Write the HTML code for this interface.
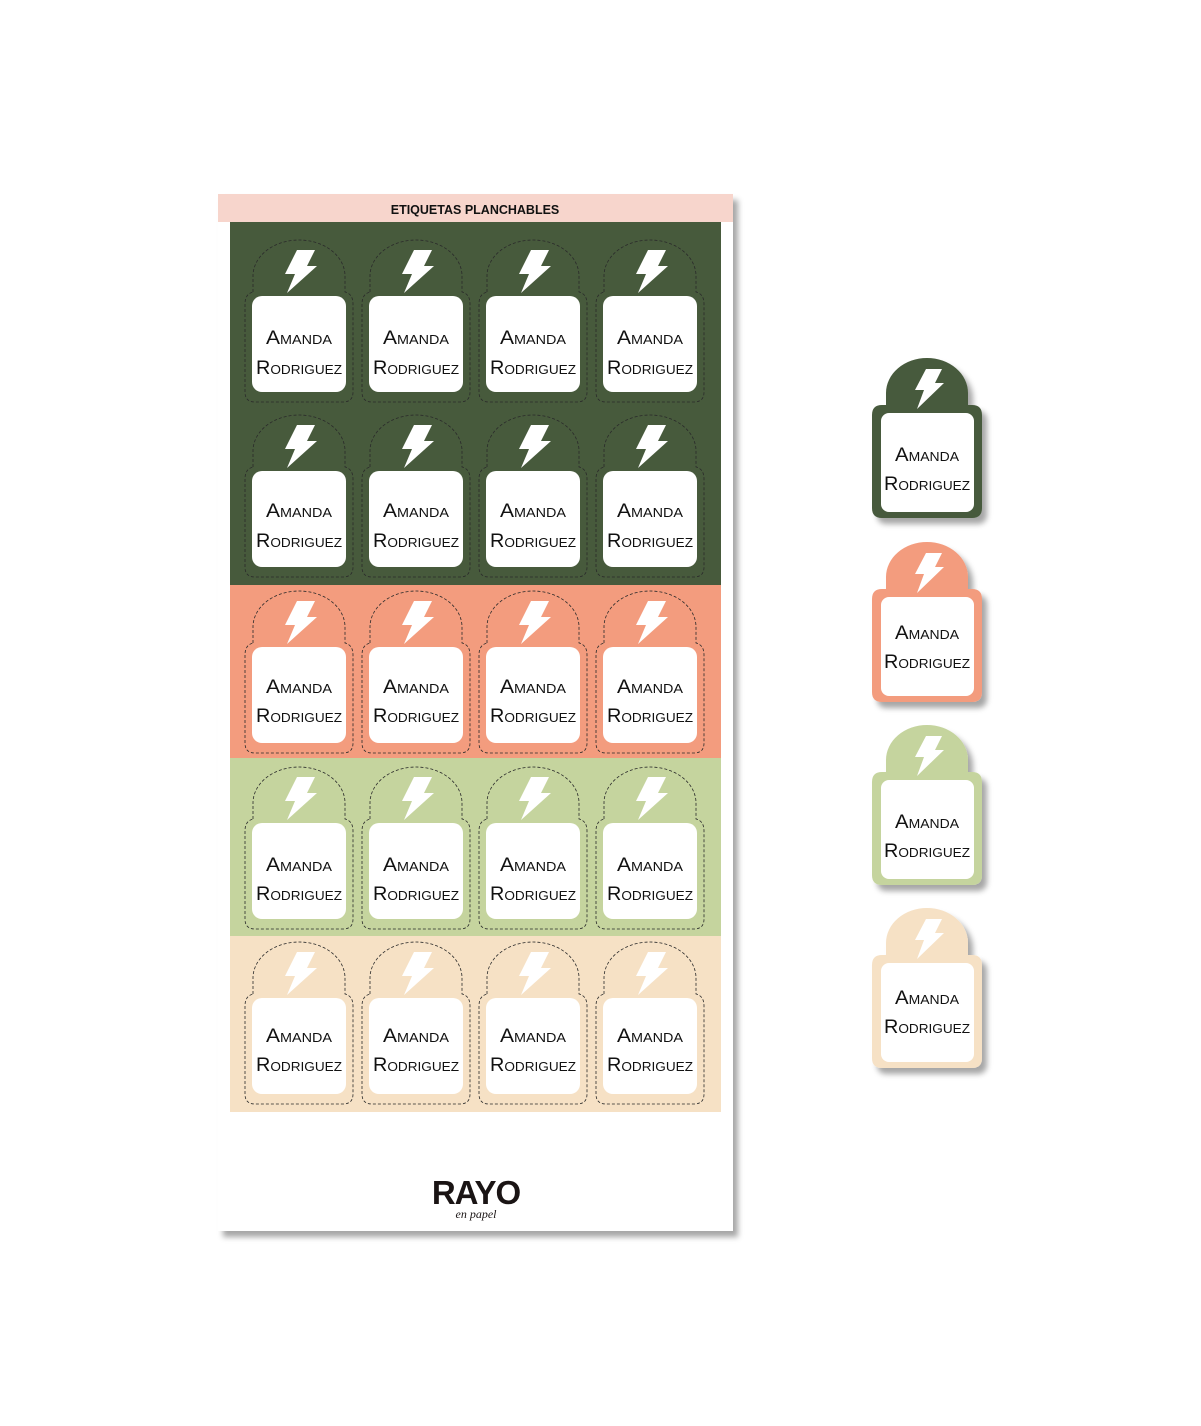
<!DOCTYPE html>
<html><head><meta charset="utf-8"><style>
html,body{margin:0;padding:0;background:#fff;}
svg{display:block;}
.t{font-family:"Liberation Sans",sans-serif;font-variant:small-caps;font-size:19px;fill:#111;text-anchor:middle;}
</style></head><body>
<svg width="1201" height="1426" viewBox="0 0 1201 1426" xmlns="http://www.w3.org/2000/svg">
<defs>
<filter id="sh" x="-10%" y="-10%" width="130%" height="130%"><feDropShadow dx="5" dy="6" stdDeviation="3" flood-color="#000" flood-opacity="0.35"/></filter>
<path id="o" d="M-46,-4 L-46,-20 A46 36 0 0 1 46,-20 L46,-4 Q54,-2 54,8 L54,96 Q54,106 44,106 L-44,106 Q-54,106 -54,96 L-54,8 Q-54,-2 -46,-4 Z" fill="none" stroke="#2a2a2a" stroke-width="0.8" stroke-dasharray="3,2"/>
<rect id="w" x="-47" y="0" width="94" height="96" rx="10" fill="#fff"/>
<polygon id="b" points="-2,-46 16,-46 8,-30 18,-30 -12,-3 -4,-22 -14,-22" fill="#fff"/>
<path id="big" d="M-41,0 L-41,-12 A41 35 0 0 1 41,-12 L41,0 L45,0 Q55,0 55,10 L55,103 Q55,113 45,113 L-45,113 Q-55,113 -55,103 L-55,10 Q-55,0 -45,0 Z"/>
<polygon id="bb" points="-1,-36 15,-36 8,-22 17,-22 -10,4 -3,-15 -12,-15" fill="#fff"/>
</defs>

<!-- sheet -->
<rect x="218" y="194" width="515" height="1037" fill="#fff" filter="url(#sh)"/>
<rect x="218" y="194" width="515" height="28" fill="#f7d5cc"/>
<text x="475" y="214" font-family="Liberation Sans,sans-serif" font-weight="bold" font-size="12.5" text-anchor="middle" fill="#111">ETIQUETAS PLANCHABLES</text>
<rect x="230" y="222" width="491" height="363" fill="#475a3c"/>
<rect x="230" y="585" width="491" height="173" fill="#f39c7e"/>
<rect x="230" y="758" width="491" height="178" fill="#c5d49e"/>
<rect x="230" y="936" width="491" height="176" fill="#f6e1c5"/>

<g transform="translate(299,296)"><use href="#o"/><use href="#w"/><use href="#b"/><text class="t" y="48" textLength="66" lengthAdjust="spacingAndGlyphs">Amanda</text><text class="t" y="78" textLength="86" lengthAdjust="spacingAndGlyphs">Rodriguez</text></g>
<g transform="translate(416,296)"><use href="#o"/><use href="#w"/><use href="#b"/><text class="t" y="48" textLength="66" lengthAdjust="spacingAndGlyphs">Amanda</text><text class="t" y="78" textLength="86" lengthAdjust="spacingAndGlyphs">Rodriguez</text></g>
<g transform="translate(533,296)"><use href="#o"/><use href="#w"/><use href="#b"/><text class="t" y="48" textLength="66" lengthAdjust="spacingAndGlyphs">Amanda</text><text class="t" y="78" textLength="86" lengthAdjust="spacingAndGlyphs">Rodriguez</text></g>
<g transform="translate(650,296)"><use href="#o"/><use href="#w"/><use href="#b"/><text class="t" y="48" textLength="66" lengthAdjust="spacingAndGlyphs">Amanda</text><text class="t" y="78" textLength="86" lengthAdjust="spacingAndGlyphs">Rodriguez</text></g>

<g transform="translate(299,471)"><use href="#o"/><use href="#w"/><use href="#b"/><text class="t" y="46" textLength="66" lengthAdjust="spacingAndGlyphs">Amanda</text><text class="t" y="76" textLength="86" lengthAdjust="spacingAndGlyphs">Rodriguez</text></g>
<g transform="translate(416,471)"><use href="#o"/><use href="#w"/><use href="#b"/><text class="t" y="46" textLength="66" lengthAdjust="spacingAndGlyphs">Amanda</text><text class="t" y="76" textLength="86" lengthAdjust="spacingAndGlyphs">Rodriguez</text></g>
<g transform="translate(533,471)"><use href="#o"/><use href="#w"/><use href="#b"/><text class="t" y="46" textLength="66" lengthAdjust="spacingAndGlyphs">Amanda</text><text class="t" y="76" textLength="86" lengthAdjust="spacingAndGlyphs">Rodriguez</text></g>
<g transform="translate(650,471)"><use href="#o"/><use href="#w"/><use href="#b"/><text class="t" y="46" textLength="66" lengthAdjust="spacingAndGlyphs">Amanda</text><text class="t" y="76" textLength="86" lengthAdjust="spacingAndGlyphs">Rodriguez</text></g>

<g transform="translate(299,647)"><use href="#o"/><use href="#w"/><use href="#b"/><text class="t" y="46" textLength="66" lengthAdjust="spacingAndGlyphs">Amanda</text><text class="t" y="75" textLength="86" lengthAdjust="spacingAndGlyphs">Rodriguez</text></g>
<g transform="translate(416,647)"><use href="#o"/><use href="#w"/><use href="#b"/><text class="t" y="46" textLength="66" lengthAdjust="spacingAndGlyphs">Amanda</text><text class="t" y="75" textLength="86" lengthAdjust="spacingAndGlyphs">Rodriguez</text></g>
<g transform="translate(533,647)"><use href="#o"/><use href="#w"/><use href="#b"/><text class="t" y="46" textLength="66" lengthAdjust="spacingAndGlyphs">Amanda</text><text class="t" y="75" textLength="86" lengthAdjust="spacingAndGlyphs">Rodriguez</text></g>
<g transform="translate(650,647)"><use href="#o"/><use href="#w"/><use href="#b"/><text class="t" y="46" textLength="66" lengthAdjust="spacingAndGlyphs">Amanda</text><text class="t" y="75" textLength="86" lengthAdjust="spacingAndGlyphs">Rodriguez</text></g>

<g transform="translate(299,823)"><use href="#o"/><use href="#w"/><use href="#b"/><text class="t" y="48" textLength="66" lengthAdjust="spacingAndGlyphs">Amanda</text><text class="t" y="77" textLength="86" lengthAdjust="spacingAndGlyphs">Rodriguez</text></g>
<g transform="translate(416,823)"><use href="#o"/><use href="#w"/><use href="#b"/><text class="t" y="48" textLength="66" lengthAdjust="spacingAndGlyphs">Amanda</text><text class="t" y="77" textLength="86" lengthAdjust="spacingAndGlyphs">Rodriguez</text></g>
<g transform="translate(533,823)"><use href="#o"/><use href="#w"/><use href="#b"/><text class="t" y="48" textLength="66" lengthAdjust="spacingAndGlyphs">Amanda</text><text class="t" y="77" textLength="86" lengthAdjust="spacingAndGlyphs">Rodriguez</text></g>
<g transform="translate(650,823)"><use href="#o"/><use href="#w"/><use href="#b"/><text class="t" y="48" textLength="66" lengthAdjust="spacingAndGlyphs">Amanda</text><text class="t" y="77" textLength="86" lengthAdjust="spacingAndGlyphs">Rodriguez</text></g>

<g transform="translate(299,998)"><use href="#o"/><use href="#w"/><use href="#b"/><text class="t" y="44" textLength="66" lengthAdjust="spacingAndGlyphs">Amanda</text><text class="t" y="73" textLength="86" lengthAdjust="spacingAndGlyphs">Rodriguez</text></g>
<g transform="translate(416,998)"><use href="#o"/><use href="#w"/><use href="#b"/><text class="t" y="44" textLength="66" lengthAdjust="spacingAndGlyphs">Amanda</text><text class="t" y="73" textLength="86" lengthAdjust="spacingAndGlyphs">Rodriguez</text></g>
<g transform="translate(533,998)"><use href="#o"/><use href="#w"/><use href="#b"/><text class="t" y="44" textLength="66" lengthAdjust="spacingAndGlyphs">Amanda</text><text class="t" y="73" textLength="86" lengthAdjust="spacingAndGlyphs">Rodriguez</text></g>
<g transform="translate(650,998)"><use href="#o"/><use href="#w"/><use href="#b"/><text class="t" y="44" textLength="66" lengthAdjust="spacingAndGlyphs">Amanda</text><text class="t" y="73" textLength="86" lengthAdjust="spacingAndGlyphs">Rodriguez</text></g>

<!-- logo -->
<text x="476" y="1204" font-family="Liberation Sans,sans-serif" font-weight="bold" font-size="33" text-anchor="middle" fill="#1a1414" letter-spacing="-1">RAYO</text>
<text x="476" y="1218" font-family="Liberation Serif,serif" font-style="italic" font-size="12" text-anchor="middle" fill="#1a1414">en papel</text>

<!-- right labels -->
<g transform="translate(927,405)" filter="url(#sh)"><use href="#big" fill="#475a3c"/></g>
<g transform="translate(927,405)"><rect x="-46" y="8" width="93" height="99" rx="8" fill="#fff"/><use href="#bb"/><text class="t" y="56" textLength="64" lengthAdjust="spacingAndGlyphs">Amanda</text><text class="t" y="85" textLength="86" lengthAdjust="spacingAndGlyphs">Rodriguez</text></g>

<g transform="translate(927,589)" filter="url(#sh)"><use href="#big" fill="#f39c7e"/></g>
<g transform="translate(927,589)"><rect x="-46" y="8" width="93" height="99" rx="8" fill="#fff"/><use href="#bb"/><text class="t" y="50" textLength="64" lengthAdjust="spacingAndGlyphs">Amanda</text><text class="t" y="79" textLength="86" lengthAdjust="spacingAndGlyphs">Rodriguez</text></g>

<g transform="translate(927,772)" filter="url(#sh)"><use href="#big" fill="#c5d49e"/></g>
<g transform="translate(927,772)"><rect x="-46" y="8" width="93" height="99" rx="8" fill="#fff"/><use href="#bb"/><text class="t" y="56" textLength="64" lengthAdjust="spacingAndGlyphs">Amanda</text><text class="t" y="85" textLength="86" lengthAdjust="spacingAndGlyphs">Rodriguez</text></g>

<g transform="translate(927,955)" filter="url(#sh)"><use href="#big" fill="#f6e1c5"/></g>
<g transform="translate(927,955)"><rect x="-46" y="8" width="93" height="99" rx="8" fill="#fff"/><use href="#bb"/><text class="t" y="49" textLength="64" lengthAdjust="spacingAndGlyphs">Amanda</text><text class="t" y="78" textLength="86" lengthAdjust="spacingAndGlyphs">Rodriguez</text></g>
</svg>
</body></html>
